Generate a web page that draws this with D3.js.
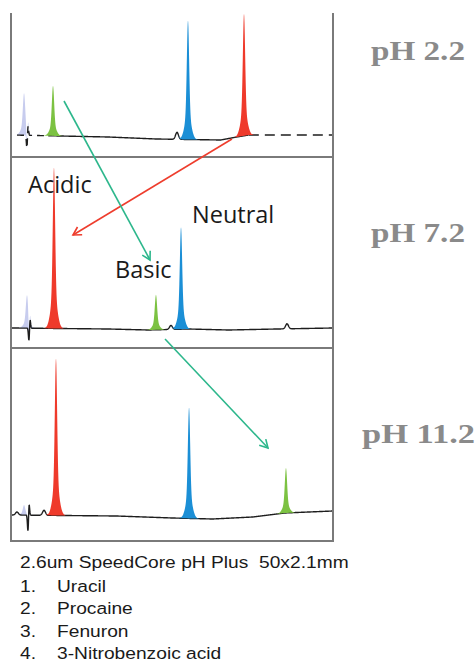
<!DOCTYPE html>
<html>
<head>
<meta charset="utf-8">
<script src="https://cdn.jsdelivr.net/npm/d3@7"></script>
<style>
  body { margin: 0; background: #fff; }
  svg { display: block; }
</style>
</head>
<body>
<svg width="476" height="664"></svg>
<script>
// --- data ---
const panelLabels = ["pH 2.2", "pH 7.2", "pH 11.2"]
const compounds = ["Uracil", "Procaine", "Fenuron", "3-Nitrobenzoic acid"]
const compoundColors = ["#c7ccee", "#7cc242", "#1b8fd6", "#ef3a2b"]
const columnTitle = "2.6um SpeedCore pH Plus  50x2.1mm"

// retention time (min), one row per pH, in compound order
const retention = [
    [0.150, 0.511, 2.193, 2.891],
    [0.187, 1.794, 2.106, 0.523],
    [0.150, 3.414, 2.206, 0.548],
]
// peak height (signal units), same order
const heights = [
    [42, 50, 119, 122],
    [33, 35, 102, 161],
    [10, 45, 111, 157],
]
// system (injection) disturbance: time, up, down
const systemPeaks = [
    [0.199, 12, 15],
    [0.224, 10, 14],
    [0.212, 13, 18],
]
// small unassigned peaks: time, height
const minorPeaks = [
    [[2.056, 7]],
    [[1.981, 4], [3.427, 5]],
    [[0.062, 3], [0.399, 5]],
]
// baseline drift: time, offset
const drift = [
    [[0, 0], [1.2, -2], [1.8, -4], [2.6, -5], [2.8, -2], [2.95, 0], [4, 0]],
    [[0, 0], [1.2, -1], [1.7, -2], [2.2, -1], [2.7, -2], [3.3, -1], [4, 0]],
    [[0, 0], [1.3, -1], [2.0, -3], [2.5, -4], [3.0, -2], [3.4, 2], [4, 4]],
]
const traceStart = [0.062, 0, 0]

// annotations: [panel, time, signal]
const arrows = [
    { color: "#ee3d2d", from: [0, 2.741, -4], to: [1, 0.760, 93] },
    { color: "#2db78c", from: [0, 0.648, 34], to: [1, 1.720, 68] },
    { color: "#2db78c", from: [1, 1.907, -11], to: [2, 3.190, 67] },
]
const groupLabels = [
    { text: "Acidic", at: [1, 0.20, 135] },
    { text: "Neutral", at: [1, 2.243, 105] },
    { text: "Basic", at: [1, 1.283, 50] },
]

// --- layout ---
const svg = d3.select("svg")
const x = d3.scaleLinear().domain([0, 4]).range([12, 333])
const panelTop = [13, 157, 348]
const panelBottom = [157, 348, 541]
const panelBase = [135, 328, 515]
const ys = panelBase.map((b) => d3.scaleLinear().domain([0, 100]).range([b, b - 100]))

function gauss(d, s) {
    return Math.exp((-d * d) / (2 * s * s))
}
function peakShape(t, t0, h) {
    let d = t - t0
    return h * (0.78 * gauss(d, 0.014) + 0.22 * gauss(d, 0.038))
}

// arrow heads
let defs = svg.append("defs")
arrows.forEach((a, i) => {
    defs.append("marker")
        .attr("id", "head" + i)
        .attr("markerUnits", "userSpaceOnUse")
        .attr("viewBox", "-10 -6 12 12")
        .attr("markerWidth", 12)
        .attr("markerHeight", 12)
        .attr("orient", "auto")
        .append("path")
        .attr("d", "M-8,-4.5L0,0L-8,4.5")
        .attr("fill", "none")
        .attr("stroke", a.color)
        .attr("stroke-width", 1.6)
})

let line = d3.line().x((d) => x(d[0])).y((d) => d[1])

panelLabels.forEach((label, p) => {
    let y = ys[p]
    let base = d3.scaleLinear().domain(drift[p].map((d) => d[0])).range(drift[p].map((d) => d[1]))
    let times = d3.range(traceStart[p], 4.0001, 0.003)
    let sp = systemPeaks[p]

    let blackSignal = (t) => {
        let v = base(t)
        v += sp[1] * gauss(t - sp[0], 0.007) - sp[2] * gauss(t - sp[0] + 0.012, 0.007)
        minorPeaks[p].forEach((m) => (v += m[1] * gauss(t - m[0], 0.018)))
        return v
    }
    let g = svg.append("g").attr("class", "panel")

    // compound peaks as filled areas
    let drawPeak = (c) => {
        let t0 = retention[p][c]
        let pts = times.filter((t) => Math.abs(t - t0) < 0.12)
        g.append("path")
            .attr("d", d3.area()
                .x((t) => x(t))
                .y0((t) => y(blackSignal(t)))
                .y1((t) => y(blackSignal(t) + peakShape(t, t0, heights[p][c])))(pts))
            .attr("fill", compoundColors[c])
    }
    drawPeak(0)

    let trace = times.map((t) => [t, y(blackSignal(t))])
    let stroke = (sel) => sel.attr("fill", "none").attr("stroke", "#1e1e1e").attr("stroke-width", 1.4)
    if (p == 0) {
        g.append("path").attr("d", line(trace.filter((d) => d[0] <= 0.45)))
            .call(stroke).attr("stroke-dasharray", "7,5")
        g.append("path").attr("d", line(trace.filter((d) => d[0] >= 0.45 && d[0] <= 2.95)))
            .call(stroke)
        g.append("path").attr("d", line(trace.filter((d) => d[0] >= 2.95)))
            .call(stroke).attr("stroke-dasharray", "10,6")
    } else {
        g.append("path").attr("d", line(trace)).call(stroke)
    }
    drawPeak(1)
    drawPeak(2)
    drawPeak(3)

    // pH label
    svg.append("text")
        .attr("x", p == 2 ? 362 : 371)
        .attr("y", [60, 242, 443][p])
        .attr("textLength", p == 2 ? 113 : 94)
        .attr("lengthAdjust", "spacingAndGlyphs")
        .attr("font-family", "Liberation Serif, serif")
        .attr("font-weight", "bold")
        .attr("font-size", 27)
        .attr("fill", "#8a8a8a")
        .text(label)
})

// frame
let frame = svg.append("g").attr("stroke", "#7a7a7a").attr("stroke-width", 2).attr("fill", "none")
frame.append("line").attr("x1", x(0) - 1).attr("x2", x(0) - 1).attr("y1", panelTop[0]).attr("y2", 542)
frame.append("line").attr("x1", x(4)).attr("x2", x(4)).attr("y1", panelTop[0]).attr("y2", 542)
panelBottom.forEach((b) => {
    frame.append("line").attr("x1", x(0) - 2).attr("x2", x(4) + 1).attr("y1", b).attr("y2", b)
})

// arrows
let pos = (a) => [x(a[1]), ys[a[0]](a[2])]
arrows.forEach((a, i) => {
    let f = pos(a.from), t = pos(a.to)
    svg.append("line")
        .attr("x1", f[0]).attr("y1", f[1]).attr("x2", t[0]).attr("y2", t[1])
        .attr("stroke", a.color).attr("stroke-width", 1.6)
        .attr("marker-end", "url(#head" + i + ")")
})

groupLabels.forEach((l) => {
    let q = pos(l.at)
    svg.append("text")
        .attr("x", q[0]).attr("y", q[1])
        .attr("font-family", "Open Sans, sans-serif")
        .attr("font-size", 23.5)
        .attr("fill", "#1a1a1a")
        .text(l.text)
})

// legend (slightly stretched horizontally, like the source)
let legend = svg.append("g")
    .attr("transform", "translate(20,0) scale(1.13,1)")
    .attr("font-family", "Liberation Sans, Arial, sans-serif")
    .attr("font-size", 17)
    .attr("fill", "#1a1a1a")
legend.append("text").attr("x", 0).attr("y", 568).style("white-space", "pre").text(columnTitle)
compounds.forEach((c, i) => {
    let yy = 592 + i * 22.5
    legend.append("text").attr("x", 0).attr("y", yy).text(i + 1 + ".")
    legend.append("text").attr("x", 37 / 1.13).attr("y", yy).text(c)
})
</script>
</body>
</html>
